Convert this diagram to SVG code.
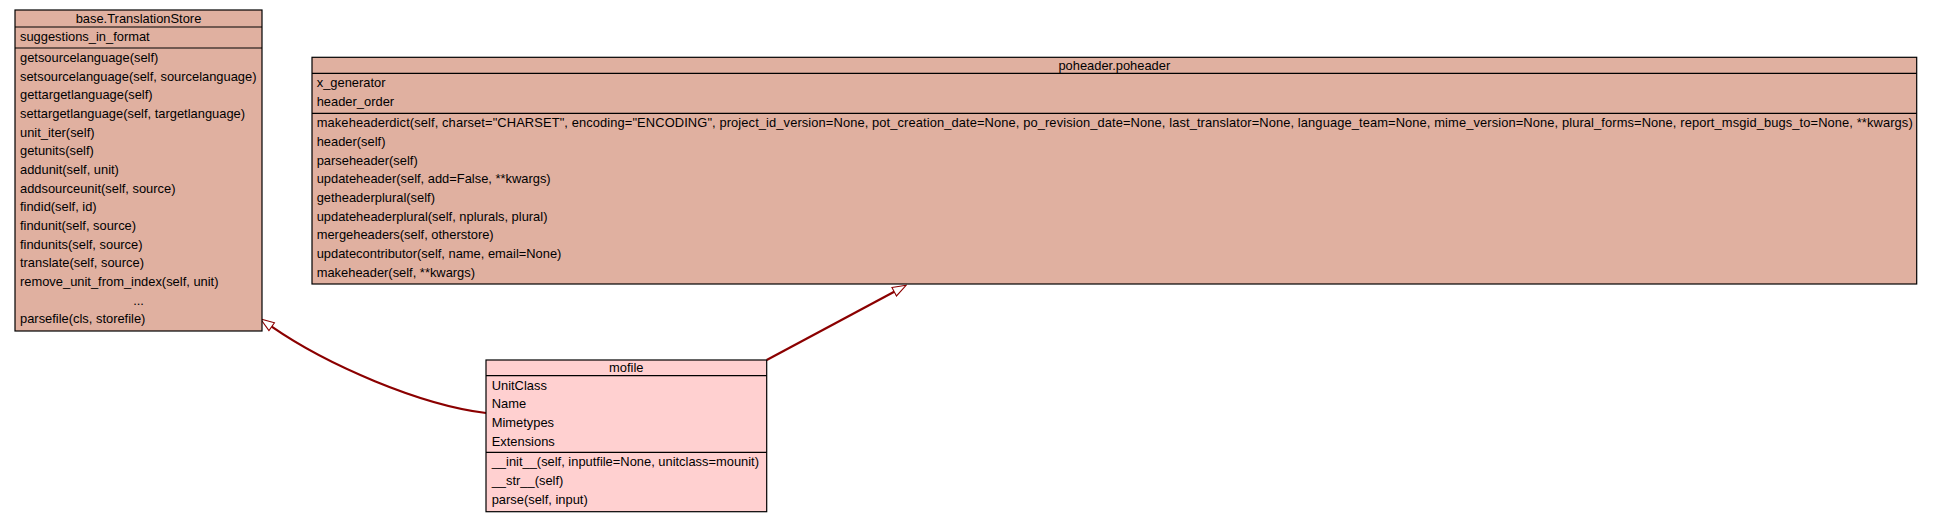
<svg xmlns="http://www.w3.org/2000/svg" width="1933" height="523" viewBox="0 0 1933 523">
<style>
text{font-family:"Liberation Sans",Arial,Helvetica,sans-serif;font-size:12.9px;fill:#000}
.t{text-anchor:middle}
.base{fill:#e0b0a0;stroke:#000;stroke-width:1.2}
.leaf{fill:#ffd0d0;stroke:#000;stroke-width:1.2}
.sep{stroke:#000;stroke-width:1.2}
.edge{fill:none;stroke:#8b0000;stroke-width:2.2}
</style>
<defs>
<marker id="inh" markerUnits="userSpaceOnUse" markerWidth="16" markerHeight="14" refX="0" refY="7" orient="auto" viewBox="-1 0 16 14">
<path d="M0,2.2 L13.5,7 L0,11.8 Z" fill="#fff" stroke="#8b0000" stroke-width="1.1"/>
</marker>
</defs>
<rect width="1933" height="523" fill="#fff"/>
<g id="connectors">
<path class="edge" d="M486,413 C420,405 327,365 271.7,326.7" marker-end="url(#inh)"/>
<path class="edge" d="M766.7,360 L894.2,291.7" marker-end="url(#inh)"/>
</g>
<g id="node-translationstore">
<rect class="base" x="15" y="10" width="247" height="321"/>
<line class="sep" x1="15" y1="27" x2="262" y2="27"/>
<line class="sep" x1="15" y1="48" x2="262" y2="48"/>
<text class="t" x="138.5" y="22.5">base.TranslationStore</text>
<text x="20" y="41">suggestions_in_format</text>
<text x="20" y="62">getsourcelanguage(self)</text>
<text x="20" y="80.67">setsourcelanguage(self, sourcelanguage)</text>
<text x="20" y="99.33">gettargetlanguage(self)</text>
<text x="20" y="118">settargetlanguage(self, targetlanguage)</text>
<text x="20" y="136.67">unit_iter(self)</text>
<text x="20" y="155.33">getunits(self)</text>
<text x="20" y="174">addunit(self, unit)</text>
<text x="20" y="192.67">addsourceunit(self, source)</text>
<text x="20" y="211.33">findid(self, id)</text>
<text x="20" y="230">findunit(self, source)</text>
<text x="20" y="248.67">findunits(self, source)</text>
<text x="20" y="267.33">translate(self, source)</text>
<text x="20" y="286">remove_unit_from_index(self, unit)</text>
<text class="t" x="138.5" y="304.67">...</text>
<text x="20" y="323.33">parsefile(cls, storefile)</text>
</g>
<g id="node-poheader">
<rect class="base" x="312" y="57.3" width="1604.7" height="226.7"/>
<line class="sep" x1="312" y1="73.3" x2="1916.7" y2="73.3"/>
<line class="sep" x1="312" y1="113.3" x2="1916.7" y2="113.3"/>
<text class="t" x="1114.3" y="69.8">poheader.poheader</text>
<text x="316.7" y="87.3">x_generator</text>
<text x="316.7" y="106">header_order</text>
<text x="316.7" y="127.3" textLength="1596" lengthAdjust="spacing">makeheaderdict(self, charset="CHARSET", encoding="ENCODING", project_id_version=None, pot_creation_date=None, po_revision_date=None, last_translator=None, language_team=None, mime_version=None, plural_forms=None, report_msgid_bugs_to=None, **kwargs)</text>
<text x="316.7" y="146">header(self)</text>
<text x="316.7" y="164.67">parseheader(self)</text>
<text x="316.7" y="183.33">updateheader(self, add=False, **kwargs)</text>
<text x="316.7" y="202">getheaderplural(self)</text>
<text x="316.7" y="220.67">updateheaderplural(self, nplurals, plural)</text>
<text x="316.7" y="239.33">mergeheaders(self, otherstore)</text>
<text x="316.7" y="258">updatecontributor(self, name, email=None)</text>
<text x="316.7" y="276.67">makeheader(self, **kwargs)</text>
</g>
<g id="node-mofile">
<rect class="leaf" x="486" y="360" width="280.7" height="151.7"/>
<line class="sep" x1="486" y1="375.7" x2="766.7" y2="375.7"/>
<line class="sep" x1="486" y1="452.3" x2="766.7" y2="452.3"/>
<text class="t" x="626.3" y="372">mofile</text>
<text x="491.7" y="389.7">UnitClass</text>
<text x="491.7" y="408.3">Name</text>
<text x="491.7" y="427">Mimetypes</text>
<text x="491.7" y="445.7">Extensions</text>
<text x="491.7" y="466.3">__init__(self, inputfile=None, unitclass=mounit)</text>
<text x="491.7" y="485">__str__(self)</text>
<text x="491.7" y="503.7">parse(self, input)</text>
</g>
</svg>
